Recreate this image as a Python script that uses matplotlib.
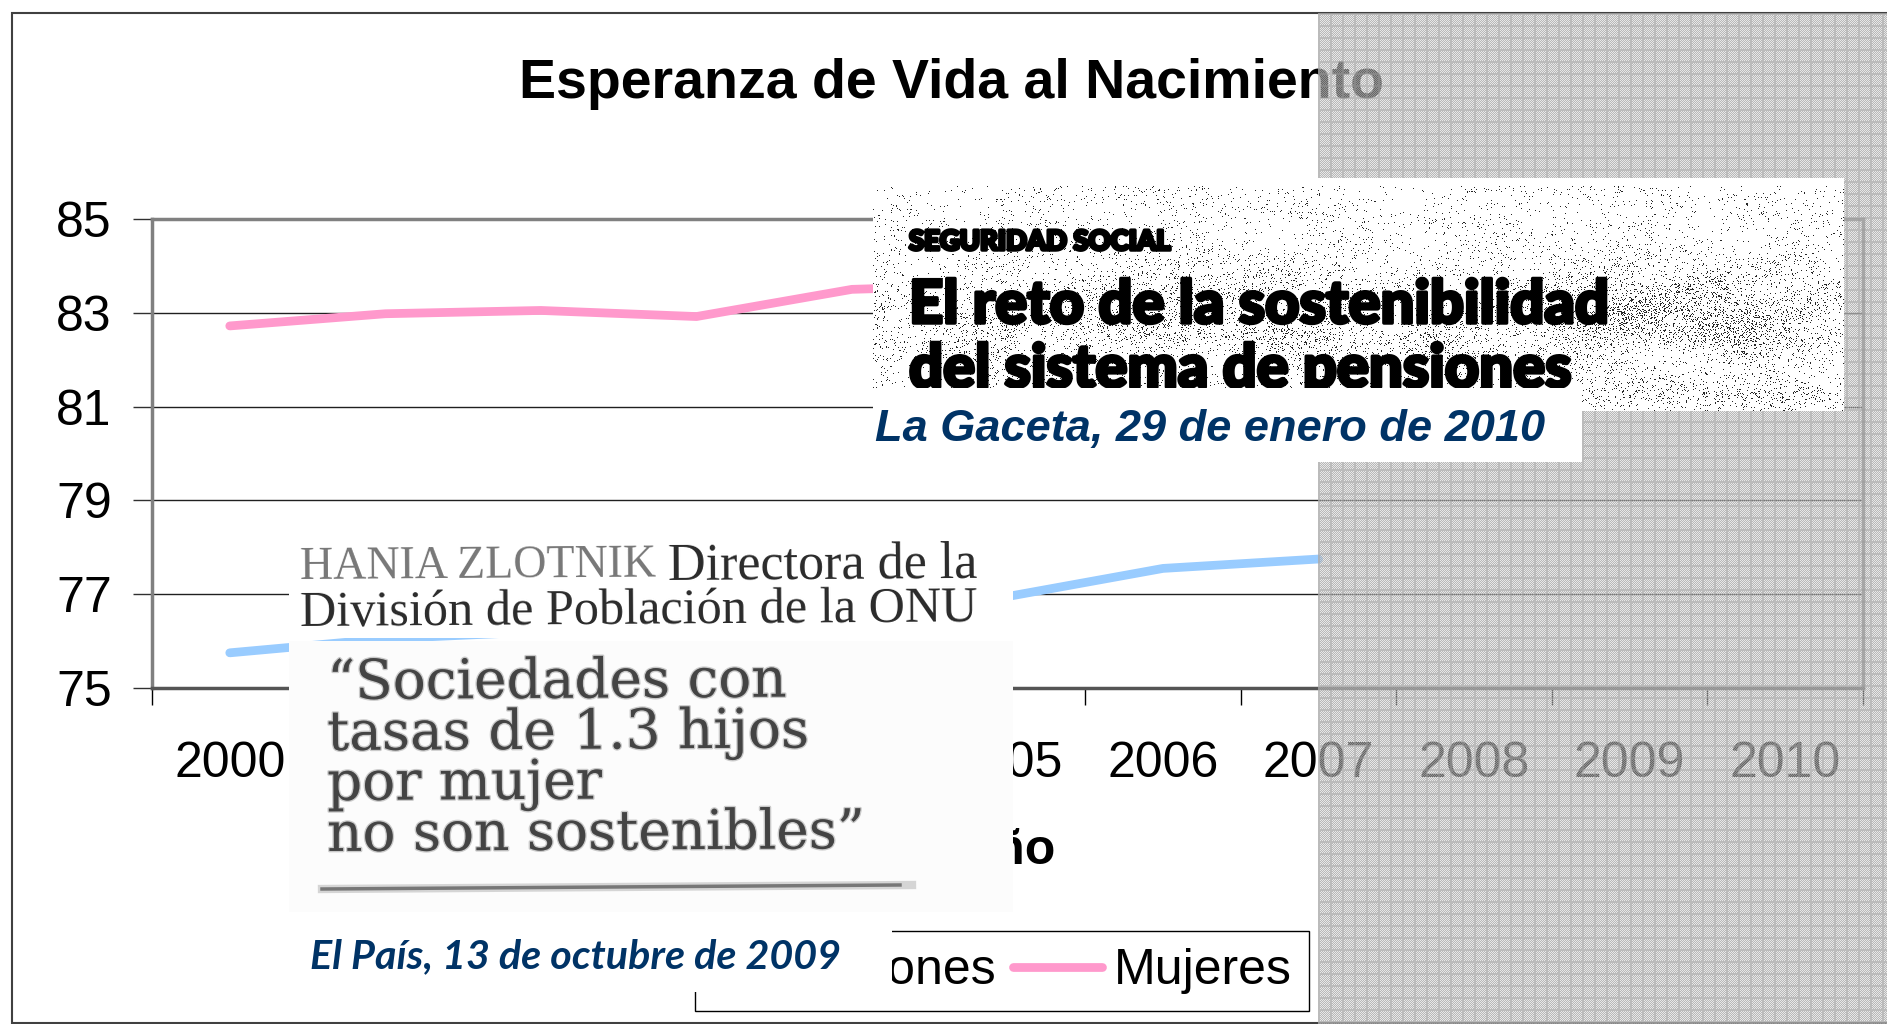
import numpy as np
import matplotlib
matplotlib.use('Agg')
import matplotlib.pyplot as plt
import matplotlib.patheffects as pe
from matplotlib.patches import Rectangle

plt.rcParams['font.family'] = ['Liberation Sans', 'DejaVu Sans']

# datos (los tramos tapados por los recortes son estimados)
years = ['2000', '2001', '2002', '2003', '2004', '2005', '2006', '2007', '2008', '2009', '2010']
varones = [75.75, 76.05, 76.2, 76.4, 76.65, 76.95, 77.55, 77.75, np.nan, np.nan, np.nan]
mujeres = [82.72, 82.98, 83.05, 82.92, 83.5, 83.6, 84.0, 84.1, np.nan, np.nan, np.nan]
y_ticks = [75, 77, 79, 81, 83, 85]

W, H = 1887, 1024
fig = plt.figure(figsize=(W / 100, H / 100), dpi=100, facecolor='white')

# marco exterior
bg = fig.add_axes([0, 0, 1, 1], zorder=0)
bg.set_xlim(0, W)
bg.set_ylim(H, 0)
bg.axis('off')
bg.add_patch(Rectangle((12, 13), W, 1010, fc='white', ec='#404040', lw=1.5))

# grafico
ax = fig.add_axes([152 / W, 1 - 688 / H, (1863 - 152) / W, (688 - 219) / H], zorder=1)
ax.patch.set_alpha(0)
pos = np.arange(len(years))
ax.plot(pos, varones, color='#99ccff', lw=6.3, solid_capstyle='round', label='Varones')
ax.plot(pos, mujeres, color='#ff99cc', lw=6.3, solid_capstyle='round', label='Mujeres')
ax.set_xlim(-0.5, len(years) - 0.5)
ax.set_ylim(75, 85)
ax.set_yticks(y_ticks)
ax.set_xticks(np.arange(len(years) + 1) - 0.5)
ax.set_xticklabels([])
ax.set_xticks(pos, labels=years, minor=True)
ax.tick_params(axis='x', which='major', length=12, width=1, color='black')
ax.tick_params(axis='x', which='minor', length=0, pad=38, labelsize=36)
ax.tick_params(axis='y', length=14, width=1, color='#303030', pad=15, labelsize=36)
ax.grid(axis='y', color='#202020', lw=1)
ax.set_axisbelow(True)
for s in ['left', 'top', 'right']:
    ax.spines[s].set_color('#808080')
    ax.spines[s].set_linewidth(2.5)
ax.spines['bottom'].set_color('#555555')
ax.spines['bottom'].set_linewidth(2.5)
ax.set_xlabel('Año', fontsize=36, fontweight='bold', labelpad=0)
ax.xaxis.set_label_coords(0.5, 1 - (828 - 219) / (688 - 219))
ax.text(952 / W, 1 - 84 / H, 'Esperanza de Vida al Nacimiento', transform=fig.transFigure,
        fontsize=40, fontweight='bold', ha='center', va='center')
ax.legend(loc='lower left', bbox_to_anchor=(695 / W, 1 - 1011 / H), bbox_transform=fig.transFigure,
          ncol=2, fontsize=36, frameon=True, fancybox=False, edgecolor='black', framealpha=1,
          borderaxespad=0, borderpad=0.34, handlelength=1.78, handletextpad=0.25, columnspacing=0.33)

# trama gris de la derecha
gx0 = 1318
yy, xx = np.mgrid[0:H - 13, 0:W - gx0]
gray = np.zeros(xx.shape + (4,))
check = (xx + yy) % 2 == 0
gray[..., :3] = np.where(check, 172, 208)[..., None] / 255
gray[..., 3] = np.where(check, 0.85, 0.5)
line = (xx % 12 < 2) | (yy % 12 < 2)
gray[line, :3] = 170 / 255
gray[line, 3] = 0.8
fig.figimage(gray, xo=gx0, yo=0, origin='upper', zorder=5)

# recortes de prensa
top = fig.add_axes([0, 0, 1, 1], zorder=10)
top.patch.set_alpha(0)
top.axis('off')

# caja de La Gaceta con moteado
top.add_patch(Rectangle((873, 178), 1844 - 873, 411 - 178, fc='white', ec='none', zorder=1))
sy, sx = np.mgrid[186:411, 873:1844]
noise = np.sin(sx * 12.9898 + sy * 78.233) * 43758.5453
noise = noise - np.floor(noise)
patches = 0.5 + 0.5 * np.sin(sx / 37.0 + np.sin(sy / 23.0) * 2) * np.sin(sy / 19.0 + sx / 71.0)
dens = (0.03 + 0.07 * np.exp(-((sy - 320) / 45.0) ** 2)) * (0.4 + 1.2 * patches)
dens += 0.12 * np.exp(-((sx - 1690) / 110.0) ** 2 - ((sy - 315) / 35.0) ** 2) * patches
dens += 0.05 * np.exp(-((sy - 395) / 12.0) ** 2) * (sx > 1580)
speck = np.zeros(sx.shape + (4,))
speck[..., 3] = (noise < dens) * 0.85
top.imshow(speck, extent=(873, 1844, 411, 186), interpolation='none', aspect='auto', zorder=2)

heavy = [pe.withStroke(linewidth=2.5, foreground='black')]
top.text(909, 250, 'SEGURIDAD SOCIAL', family='Lato', fontsize=19.7, fontweight=900,
         color='black', path_effects=heavy, zorder=3, va='baseline')
top.text(909, 323, 'El reto de la sostenibilidad', family='Lato', fontsize=43, fontweight=900,
         color='black', path_effects=heavy, zorder=3, va='baseline')
top.text(909, 387, 'del sistema de pensiones', family='Lato', fontsize=43, fontweight=900,
         color='black', path_effects=heavy, zorder=3, va='baseline')
top.add_patch(Rectangle((873, 388), 1582 - 873, 462 - 388, fc='white', ec='none', zorder=4))
top.text(875, 429, 'La Gaceta, 29 de enero de 2010', fontsize=32.5, fontweight='bold', style='italic',
         color='#003366', va='center', zorder=5)

# recorte de El Pais
top.add_patch(Rectangle((289, 525), 1013 - 289, 638 - 525, fc='white', ec='none', zorder=1))
top.add_patch(Rectangle((289, 641), 1013 - 289, 912 - 641, fc='#fcfcfc', ec='none', zorder=1))
top.add_patch(Rectangle((289, 912), 892 - 289, 992 - 912, fc='white', ec='none', zorder=1))
top.add_patch(Rectangle((892, 912), 1013 - 892, 18, fc='white', ec='none', zorder=1))
serif = ['Liberation Serif', 'DejaVu Serif']
top.text(300, 579, 'HANIA ZLOTNIK', family=serif, fontsize=33, color='#777777', rotation=0.4, zorder=3)
top.text(668, 579, 'Directora de la', family=serif, fontsize=37.5, color='#2a2a2a', rotation=0.4, zorder=3)
top.text(300, 626, 'División de Población de la ONU', family=serif, fontsize=36.2, color='#2a2a2a', rotation=0.4, zorder=3)
blur = [pe.withStroke(linewidth=2, foreground='#999999', alpha=0.5)]
quote = ['“Sociedades con', 'tasas de 1.3 hijos', 'por mujer', 'no son sostenibles”']
quote_y = [699, 750, 800, 851]
for line_txt, y0 in zip(quote, quote_y):
    top.text(327, y0, line_txt, family='DejaVu Serif', fontsize=39.5, color='#444444', rotation=0.3,
             path_effects=blur, zorder=3)
top.plot([322, 912], [889, 885], color='#b0b0b0', lw=6, alpha=0.5, zorder=3)
top.plot([322, 900], [889, 885], color='#777777', lw=2.5, zorder=3)
top.text(310, 957, 'El País, 13 de octubre de 2009', family='Lato',
         fontsize=29.7, fontweight='bold', style='italic', color='#003366', va='center', zorder=3)

top.set_xlim(0, W)
top.set_ylim(H, 0)

fig.savefig('out.png', dpi=100)
